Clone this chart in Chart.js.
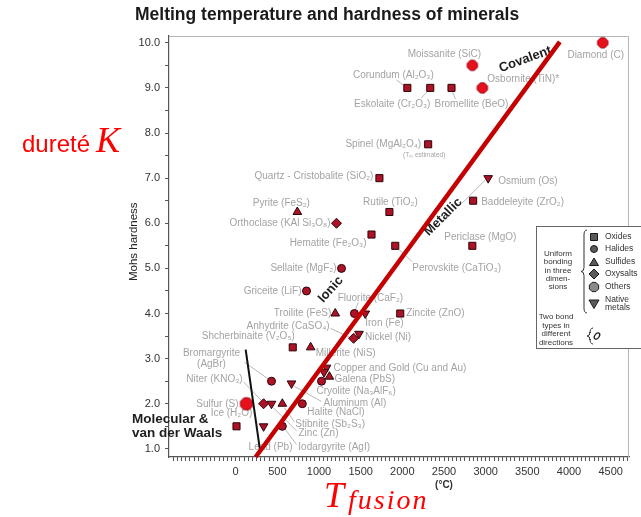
<!DOCTYPE html>
<html>
<head>
<meta charset="utf-8">
<script src="https://cdn.jsdelivr.net/npm/chart.js@4.4.1/dist/chart.umd.min.js"></script>
<style>
  html, body { margin: 0; padding: 0; background: #fff; }
  #wrap { width: 641px; height: 517px; }
</style>
</head>
<body>
<div id="wrap"><canvas id="myChart" width="641" height="517"></canvas></div>
<script>
// melting temperature (°C) and Mohs hardness
const oxideNames = ['Corundum (Al₂O₃)', 'Eskolaite (Cr₂O₃)', 'Bromellite (BeO)', 'Spinel (MgAl₂O₄)',
  'Quartz - Cristobalite (SiO₂)', 'Rutile (TiO₂)', 'Hematite (Fe₂O₃)', 'Perovskite (CaTiO₃)',
  'Baddeleyite (ZrO₂)', 'Periclase (MgO)', 'Zincite (ZnO)', 'Shcherbinaite (V₂O₅)', 'Ice (H₂O)'];
const oxideTemp = [2060, 2335, 2590, 2310, 1725, 1845, 1630, 1915, 2850, 2840, 1975, 685, 10];
const oxideHard = [9, 9, 9, 7.75, 7, 6.25, 5.75, 5.5, 6.5, 5.5, 4, 3.25, 1.5];

const halideNames = ['Sellaite (MgF₂)', 'Griceite (LiF)', 'Fluorite (CaF₂)', 'Cryolite (Na₃AlF₆)',
  'Bromargyrite (AgBr)', 'Halite (NaCl)', 'Iodargyrite (AgI)'];
const halideTemp = [1270, 850, 1425, 1030, 430, 800, 560];
const halideHard = [5, 4.5, 4, 2.5, 2.5, 2, 1.5];

const sulfideNames = ['Pyrite (FeS₂)', 'Troilite (FeS)', 'Millerite (NiS)', 'Galena (PbS)', 'Stibnite (Sb₂S₃)'];
const sulfideTemp = [740, 1195, 900, 1125, 560];
const sulfideHard = [6.25, 4, 3.25, 2.6, 2];

const oxysaltNames = ['Orthoclase (KAl Si₃O₈)', 'Anhydrite (CaSO₄)', 'Niter (KNO₃)'];
const oxysaltTemp = [1210, 1415, 335];
const oxysaltHard = [6, 3.45, 2];

const otherNames = ['Diamond (C)', 'Moissanite (SiC)', 'Osbornite (TiN)*', 'Sulfur (S)'];
const otherTemp = [4405, 2840, 2960, 130];
const otherHard = [10, 9.5, 9, 2];

const metalNames = ['Osmium (Os)', 'Iron (Fe)', 'Nickel (Ni)', 'Copper (Cu)', 'Gold (Au)',
  'Aluminum (Al)', 'Zinc (Zn)', 'Lead (Pb)'];
const metalTemp = [3030, 1555, 1480, 1090, 1060, 670, 430, 335];
const metalHard = [7, 4, 3.55, 2.8, 2.7, 2.45, 2, 1.5];

// the two hand-drawn boundary lines (°C, hardness at each end)
const redLineTemp = [240, 3890];
const redLineHard = [0.82, 10.02];
const blackLineTemp = [120, 290];
const blackHard = [3.2, 1.0];

const legendItems = ['Oxides', 'Halides', 'Sulfides', 'Oxysalts', 'Others', 'Native', 'metals'];

// label placement: [name, dx, dy, align, leader(x1,y1,x2,y2)] in px relative to the point
const labelLayout = [
  ['Diamond (C)', -7, 12, 'center'],
  ['Moissanite (SiC)', -28, -11, 'center'],
  ['Osbornite (TiN)*', 5, -9, 'left'],
  ['Corundum (Al₂O₃)', -14, -13, 'center', [-11, -8, -3, -2]],
  ['Eskolaite (Cr₂O₃)', -38, 16, 'center', [-9, 10, -2, 3]],
  ['Bromellite (BeO)', 20, 16, 'center', [4, 11, 1, 4]],
  ['Spinel (MgAl₂O₄)', -7, 0, 'right'],
  ['Quartz - Cristobalite (SiO₂)', -6, -2, 'right'],
  ['Rutile (TiO₂)', 1, -10, 'center'],
  ['Pyrite (FeS₂)', -16, -9, 'center'],
  ['Orthoclase (KAl Si₃O₈)', -6, 0, 'right'],
  ['Hematite (Fe₂O₃)', -5, 9, 'right'],
  ['Perovskite (CaTiO₃)', 17, 22, 'left', [3, 3, 17, 16]],
  ['Baddeleyite (ZrO₂)', 8, 2, 'left'],
  ['Periclase (MgO)', 8, -9, 'center'],
  ['Osmium (Os)', 10, 3, 'left', [-26, 25, -3, 2]],
  ['Sellaite (MgF₂)', -5, 0, 'right'],
  ['Griceite (LiF)', -5, 0, 'right'],
  ['Fluorite (CaF₂)', 16, -15, 'center', [4, -11, 1, -4]],
  ['Troilite (FeS)', -4, 0, 'right'],
  ['Zincite (ZnO)', 6, 0, 'left'],
  ['Iron (Fe)', 0, 10, 'left'],
  ['Anhydrite (CaSO₄)', -24, -12, 'right', [-23, -10, -4, -1]],
  ['Nickel (Ni)', 6, 3, 'left'],
  ['Shcherbinaite (V₂O₅)', 2, -11, 'right'],
  ['Millerite (NiS)', 5, 6, 'left'],
  ['Bromargyrite (AgBr)', -60, -28, 'center', [-27, -19, -3, -2]],
  ['Niter (KNO₃)', -21, -25, 'right', [-20, -22, -2, -3]],
  ['Copper (Cu)', 7, 1, 'left'],
  ['Galena (PbS)', 5, 3, 'left'],
  ['Cryolite (Na₃AlF₆)', -5, 10, 'left'],
  ['Aluminum (Al)', 32, 20, 'left', [3, 3, 30, 18]],
  ['Sulfur (S)', -8, 0, 'right'],
  ['Halite (NaCl)', 5, 8, 'left'],
  ['Ice (H₂O)', -5, -13, 'center'],
  ['Stibnite (Sb₂S₃)', 13, 20, 'left', [2, 4, 12, 18]],
  ['Zinc (Zn)', 27, 29, 'left', [2, 4, 25, 27]],
  ['Iodargyrite (AgI)', 16, 21, 'left', [3, 3, 14, 18]],
  ['Lead (Pb)', -15, 21, 'left']
];
const labelText = {
  'Copper (Cu)': 'Copper and Gold (Cu and Au)',
  'Bromargyrite (AgBr)': 'Bromargyrite\n(AgBr)'
};

// bonding regions: [text, °C, hardness, angle in degrees]
const regionLabels = [
  ['Covalent', 3475, 9.63, -20],
  ['Metallic', 2490, 6.14, -45],
  ['Ionic', 1140, 4.53, -48]
];

const xTickValues = [];
for (let v = -750; v <= 4700; v += 50) xTickValues.push(v);
const yTickValues = [];
for (let v = 1; v <= 10; v += 0.5) yTickValues.push(v);

const toPoints = (t, h) => t.map((v, i) => ({ x: v, y: h[i] }));

const pointByName = {};
[[oxideNames, oxideTemp, oxideHard], [halideNames, halideTemp, halideHard],
 [sulfideNames, sulfideTemp, sulfideHard], [oxysaltNames, oxysaltTemp, oxysaltHard],
 [otherNames, otherTemp, otherHard], [metalNames, metalTemp, metalHard]].forEach(([n, t, h]) => {
  n.forEach((name, i) => { pointByName[name] = { x: t[i], y: h[i] }; });
});

function polygonImage(r, sides, fill, stroke) {
  const c = document.createElement('canvas');
  const s = Math.ceil(2 * r + 3);
  c.width = s; c.height = s;
  const g = c.getContext('2d');
  g.beginPath();
  for (let i = 0; i < sides; i++) {
    const a = Math.PI * 2 * i / sides + Math.PI / sides;
    g.lineTo(s / 2 + r * Math.cos(a), s / 2 + r * Math.sin(a));
  }
  g.closePath();
  g.fillStyle = fill; g.fill();
  g.strokeStyle = stroke; g.lineWidth = 1; g.stroke();
  return c;
}
const otherImg = polygonImage(5.5, 8, '#e8101c', '#9a0010');
const sulfurImg = polygonImage(6.5, 8, '#e8101c', '#9a0010');

const markFill = '#ad1226';
const markEdge = '#2a0508';

function pointSet(data, style, radius, rotation) {
  return {
    data: data,
    pointStyle: style,
    pointRadius: radius,
    rotation: rotation || 0,
    backgroundColor: markFill,
    borderColor: markEdge,
    borderWidth: 1
  };
}

function drawBrace(ctx, x, y1, y2) {
  const ym = (y1 + y2) / 2;
  ctx.beginPath();
  ctx.moveTo(x + 3, y1);
  ctx.quadraticCurveTo(x, y1, x, y1 + 5);
  ctx.lineTo(x, ym - 4);
  ctx.quadraticCurveTo(x, ym, x - 3, ym);
  ctx.quadraticCurveTo(x, ym, x, ym + 4);
  ctx.lineTo(x, y2 - 5);
  ctx.quadraticCurveTo(x, y2, x + 3, y2);
  ctx.stroke();
}

function legendSymbol(ctx, kind, x, y) {
  ctx.beginPath();
  if (kind === 0) ctx.rect(x - 3.5, y - 3.5, 7, 7);
  else if (kind === 1) ctx.arc(x, y, 3.5, 0, Math.PI * 2);
  else if (kind === 2) { ctx.moveTo(x, y - 4); ctx.lineTo(x + 4.5, y + 3.5); ctx.lineTo(x - 4.5, y + 3.5); ctx.closePath(); }
  else if (kind === 3) { ctx.moveTo(x, y - 5); ctx.lineTo(x + 5, y); ctx.lineTo(x, y + 5); ctx.lineTo(x - 5, y); ctx.closePath(); }
  else if (kind === 4) {
    for (let i = 0; i < 8; i++) {
      const a = Math.PI * 2 * i / 8 + Math.PI / 8;
      ctx.lineTo(x + 5 * Math.cos(a), y + 5 * Math.sin(a));
    }
    ctx.closePath();
  } else { ctx.moveTo(x - 5, y - 4); ctx.lineTo(x + 5, y - 4); ctx.lineTo(x, y + 4.5); ctx.closePath(); }
  ctx.fill(); ctx.stroke();
}

const annotate = {
  id: 'annotate',
  beforeDatasetsDraw(chart) {
    const { ctx, chartArea: a, scales: { x, y } } = chart;
    ctx.save();
    // frame on the top and right
    ctx.strokeStyle = '#b5b5b5';
    ctx.lineWidth = 1;
    ctx.beginPath();
    ctx.moveTo(a.left, a.top + 0.5);
    ctx.lineTo(a.right - 0.5, a.top + 0.5);
    ctx.lineTo(a.right - 0.5, a.bottom);
    ctx.stroke();

    // mineral names with their leader lines
    ctx.font = '10px "Liberation Sans", Arial, sans-serif';
    ctx.textBaseline = 'middle';
    labelLayout.forEach(([name, dx, dy, align, leader]) => {
      const p = pointByName[name];
      const px = x.getPixelForValue(p.x);
      const py = y.getPixelForValue(p.y);
      if (leader) {
        ctx.strokeStyle = '#b8b8b8';
        ctx.beginPath();
        ctx.moveTo(px + leader[0], py + leader[1]);
        ctx.lineTo(px + leader[2], py + leader[3]);
        ctx.stroke();
      }
      ctx.fillStyle = '#a3a3a3';
      ctx.textAlign = align;
      (labelText[name] || name).split('\n').forEach((t, i) => ctx.fillText(t, px + dx, py + dy + i * 11));
    });
    // spinel melting point note
    const sp = pointByName['Spinel (MgAl₂O₄)'];
    ctx.font = '6.5px "Liberation Sans", Arial, sans-serif';
    ctx.textAlign = 'center';
    ctx.fillText('(Tₘ estimated)', x.getPixelForValue(sp.x) - 4, y.getPixelForValue(sp.y) + 11);

    // bonding region names
    ctx.fillStyle = '#1e1e1e';
    ctx.font = 'bold 13px "Liberation Sans", Arial, sans-serif';
    regionLabels.forEach(([t, tx, ty, ang]) => {
      ctx.save();
      ctx.translate(x.getPixelForValue(tx), y.getPixelForValue(ty));
      ctx.rotate(ang * Math.PI / 180);
      ctx.textAlign = 'center';
      ctx.fillText(t, 0, 0);
      ctx.restore();
    });
    ctx.font = 'bold 13.5px "Liberation Sans", Arial, sans-serif';
    ctx.textAlign = 'left';
    ctx.fillText('Molecular &', x.getPixelForValue(-1245), y.getPixelForValue(1.665));
    ctx.fillText('van der Waals', x.getPixelForValue(-1245), y.getPixelForValue(1.355));
    ctx.restore();
  },
  afterDraw(chart) {
    const { ctx } = chart;
    ctx.save();
    // axis unit
    ctx.fillStyle = '#333';
    ctx.font = 'bold 10px "Liberation Sans", Arial, sans-serif';
    ctx.textAlign = 'center';
    ctx.textBaseline = 'middle';
    ctx.fillText('(°C)', 444, 485);

    // legend box
    ctx.fillStyle = '#fff';
    ctx.fillRect(536, 226, 110, 122);
    ctx.strokeStyle = '#666';
    ctx.lineWidth = 1;
    ctx.strokeRect(536.5, 226.5, 110, 122);
    ctx.fillStyle = '#333';
    ctx.font = '8px "Liberation Sans", Arial, sans-serif';
    ['Uniform', 'bonding', 'in three', 'dimen-', 'sions'].forEach((t, i) => ctx.fillText(t, 558, 254 + i * 8.2));
    ['Two bond', 'types in', 'different', 'directions'].forEach((t, i) => ctx.fillText(t, 556, 317 + i * 8.5));
    ctx.strokeStyle = '#333';
    drawBrace(ctx, 584, 230, 313);
    drawBrace(ctx, 590, 328, 344);
    ctx.textAlign = 'left';
    ctx.font = '8.5px "Liberation Sans", Arial, sans-serif';
    const rowY = [237, 249, 262, 274, 287, 300, 308];
    legendItems.forEach((t, i) => ctx.fillText(t, 605, rowY[i]));
    ctx.lineWidth = 1;
    [237, 249, 262, 274, 287, 304].forEach((yy, i) => {
      ctx.fillStyle = i === 4 ? '#8a8a8a' : '#5a5a5a';
      ctx.strokeStyle = '#1a1a1a';
      legendSymbol(ctx, i, 594, yy);
    });
    ctx.beginPath();
    ctx.ellipse(597, 336, 2.2, 3.5, 0.6, 0, Math.PI * 2);
    ctx.strokeStyle = '#222';
    ctx.lineWidth = 1.3;
    ctx.stroke();

    // red annotations
    ctx.fillStyle = '#ff0000';
    ctx.textBaseline = 'alphabetic';
    ctx.font = '24px "Liberation Sans", Arial, sans-serif';
    ctx.fillText('dureté', 22, 152);
    ctx.font = 'italic 36px "Liberation Serif", "Times New Roman", serif';
    ctx.fillText('K', 96, 152);
    ctx.fillText('T', 324, 507);
    ctx.font = 'italic 28px "Liberation Serif", "Times New Roman", serif';
    if ('letterSpacing' in ctx) ctx.letterSpacing = '2px';
    ctx.fillText('fusion', 348, 509);
    ctx.restore();
  }
};

const config = {
  type: 'scatter',
  data: {
    datasets: [
      {
        data: toPoints(redLineTemp, redLineHard),
        showLine: true, pointRadius: 0, borderColor: '#c40000', borderWidth: 4.5, clip: false
      },
      {
        data: toPoints(blackLineTemp, blackHard),
        showLine: true, pointRadius: 0, borderColor: '#111', borderWidth: 2, clip: false
      },
      pointSet(toPoints(otherTemp, otherHard), [otherImg, otherImg, otherImg, sulfurImg], 6),
      pointSet(toPoints(oxideTemp, oxideHard), 'rect', 5),
      pointSet(toPoints(halideTemp, halideHard), 'circle', 4),
      pointSet(toPoints(sulfideTemp, sulfideHard), 'triangle', 5),
      pointSet(toPoints(oxysaltTemp, oxysaltHard), 'rectRot', 5),
      pointSet(toPoints(metalTemp, metalHard), 'triangle', 5, 180)
    ]
  },
  options: {
    responsive: false,
    animation: false,
    events: [],
    layout: { padding: { left: 135, right: 12, top: 0, bottom: 0 } },
    plugins: {
      legend: { display: false },
      tooltip: { enabled: false },
      title: {
        display: true,
        text: 'Melting temperature and hardness of minerals',
        align: 'start',
        color: '#1a1a1a',
        font: { family: '"Liberation Sans", Arial, sans-serif', size: 17.5, weight: 'bold' },
        padding: { top: 5, bottom: 10 }
      }
    },
    scales: {
      x: {
        type: 'linear',
        min: -800,
        max: 4720,
        afterBuildTicks: (s) => { s.ticks = xTickValues.map(v => ({ value: v })); },
        afterFit: (s) => { s.height = 60; },
        grid: { display: true, drawOnChartArea: false, tickLength: 4, color: '#555' },
        border: { display: true, color: '#555', width: 1.2 },
        ticks: {
          autoSkip: false, maxRotation: 0, minRotation: 0, padding: 4,
          color: '#333',
          font: { family: '"Liberation Sans", Arial, sans-serif', size: 11 },
          callback: (v) => (v >= 0 && v % 500 === 0) ? String(v) : ''
        }
      },
      y: {
        type: 'linear',
        min: 0.82,
        max: 10.15,
        afterBuildTicks: (s) => { s.ticks = yTickValues.map(v => ({ value: v })); },
        afterFit: (s) => { s.width = 34; },
        grid: { display: true, drawOnChartArea: false, tickLength: 4, color: '#555' },
        border: { display: true, color: '#555', width: 1.2 },
        title: {
          display: true,
          text: '   Mohs hardness',
          color: '#222',
          font: { family: '"Liberation Sans", Arial, sans-serif', size: 11.5 },
          padding: { top: -8, bottom: 0 }
        },
        ticks: {
          autoSkip: false, padding: 5,
          color: '#333',
          font: { family: '"Liberation Sans", Arial, sans-serif', size: 11 },
          callback: (v) => Number.isInteger(v) ? v.toFixed(1) : ''
        }
      }
    }
  },
  plugins: [annotate]
};

new Chart(document.getElementById('myChart'), config);
</script>
</body>
</html>
